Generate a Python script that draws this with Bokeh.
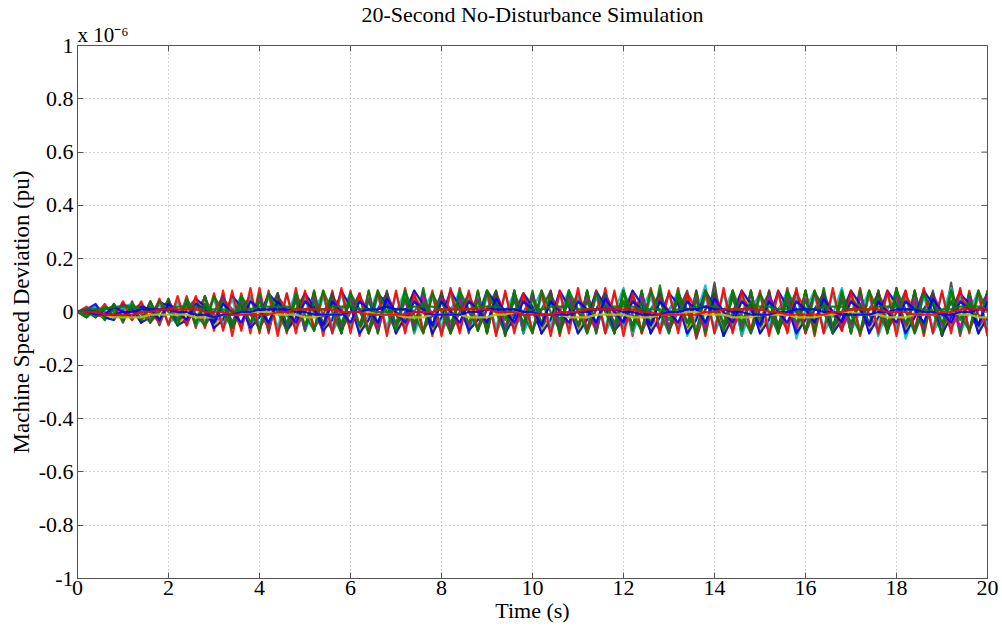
import numpy as np
from bokeh.plotting import figure
from bokeh.models import Title, FixedTicker, Range1d
from bokeh.embed import file_html
from bokeh.resources import INLINE

# time axis (s), sample every 0.2 s
time_s = np.linspace(0, 20, 101)

# machine speed deviations, in units of 1e-8 pu
gray_a = [0,
 -2,2,-3,3,-4,4,-4,4,-5,4,
 -5,5,-5,6,-5,5,-6,6,-6,6,
 -7,6,-7,7,-6,7,-7,7,-8,7,
 -8,7,-7,8,-8,7,-7,8,-8,7,
 -7,8,-8,7,-8,8,-7,8,-8,7,
 -8,7,-8,8,-7,8,-8,7,-8,8,
 -7,8,-8,7,-8,7,-8,8,-7,11,
 -9,7,-8,8,-7,8,-8,7,-8,8,
 -7,8,-8,7,-8,8,-7,8,-8,7,
 -8,8,-7,8,-9,11,-8,7,-8,8]
gray_b = [0,
 1,-2,1,2,-3,1,3,-4,0,4,
 -5,1,5,-5,0,6,-6,1,6,-6,
 0,7,-7,1,7,-6,-1,7,-7,0,
 7,-8,1,7,-7,0,8,-7,-1,7,
 -8,0,7,-7,1,8,-8,0,7,-7,
 1,8,-7,0,7,-8,1,7,-7,0,
 8,-8,1,7,-7,0,8,-10,1,7,
 -7,0,8,-8,1,7,-7,0,8,-8,
 1,7,-7,0,8,-8,1,7,-7,0,
 8,-8,1,7,-9,0,8,-7,1,7]
yellow_a = [0,
 -1,2,-2,2,-3,3,-3,2,-4,3,
 -4,4,-4,5,-5,4,-5,5,-6,5,
 -6,5,-6,6,-5,6,-6,5,-6,6,
 -5,6,-6,5,-6,6,-5,6,-7,6,
 -6,5,-6,6,-5,6,-6,5,-6,6,
 -6,6,-5,6,-6,5,-6,7,-6,5,
 -6,6,-5,6,-6,6,-5,6,-6,5,
 -6,6,-6,5,-6,6,-5,6,-6,6,
 -5,6,-6,5,-7,6,-6,5,-6,6,
 -6,5,-6,6,-5,6,-6,6,-5,6]
yellow_b = [0,
 1,0,-2,-1,2,1,-3,-1,3,2,
 -4,-2,4,2,-5,-2,5,3,-6,-2,
 6,2,-7,-3,6,3,-7,-2,7,2,
 -7,-3,7,3,-6,-2,7,2,-7,-3,
 7,2,-7,-3,6,2,-7,-2,7,3,
 -7,-2,6,3,-7,-2,7,2,-7,-3,
 7,3,-6,-2,7,3,-7,-2,6,2,
 -7,-3,7,2,-7,-2,7,3,-6,-2,
 7,2,-7,-3,7,2,-6,-3,7,2,
 -7,-2,7,3,-7,-2,6,3,-7,-2]
magenta_a = [0,
 0,2,0,-2,1,3,-1,-3,1,4,
 -1,-4,1,5,-1,-5,0,5,-1,-6,
 1,6,-1,-6,0,6,-1,-7,1,6,
 0,-6,1,7,-1,-6,0,6,-1,-7,
 1,6,0,-6,1,7,-1,-6,0,6,
 -1,-7,1,6,0,-6,1,7,-1,-6,
 0,6,-1,-7,1,6,0,-6,1,7,
 -1,-6,0,6,-1,-7,1,6,0,-6,
 1,7,-1,-6,0,6,-1,-7,1,6,
 0,-6,1,7,-1,-6,0,6,-1,-7]
magenta_b = [0,
 -1,1,-1,2,-2,2,-3,2,-3,3,
 -3,4,-4,3,-4,5,-4,4,-5,5,
 -5,4,-5,5,-6,5,-5,4,-5,6,
 -5,5,-6,5,-5,4,-5,6,-5,5,
 -6,5,-5,5,-4,5,-6,5,-5,6,
 -5,4,-5,6,-5,5,-6,5,-5,4,
 -5,6,-5,5,-6,5,-4,5,-6,5,
 -5,6,-5,4,-5,6,-5,5,-6,5,
 -4,5,-6,5,-5,6,-5,4,-5,6,
 -5,5,-6,5,-5,4,-6,5,-5,6]
cyan_a = [0,
 -1,2,-2,-3,2,3,-3,-1,4,-4,
 -2,5,-5,-1,5,-6,0,6,-6,-1,
 6,-7,-1,7,-7,1,7,-8,0,7,
 -8,-1,8,-7,0,8,-8,1,7,-8,
 0,8,-7,-1,8,-8,0,7,-8,1,
 8,-7,0,8,-8,-1,7,-8,0,9,
 -8,1,8,-7,0,8,-9,-1,10,-8,
 0,8,-9,1,7,-8,0,8,-10,1,
 8,-8,-1,9,-7,0,8,-9,1,8,
 -10,0,8,-8,-1,9,-8,0,8,-9]
cyan_b = [0,
 1,-1,2,-2,2,-3,3,-3,3,-4,
 4,-4,5,-4,5,-5,5,-6,6,-5,
 6,-6,7,-6,6,-7,6,-6,7,-6,
 6,-7,6,-6,7,-6,6,-7,6,-6,
 7,-6,6,-7,6,-6,7,-6,6,-7,
 6,-6,7,-6,6,-7,6,-6,7,-6,
 6,-7,6,-6,7,-6,6,-7,6,-6,
 7,-6,6,-7,6,-6,7,-6,6,-7,
 6,-6,7,-6,6,-7,6,-6,7,-6,
 6,-7,6,-6,7,-6,6,-7,6,-6]
green_a = [0,
 -2,1,-3,3,-3,2,-4,4,-3,5,
 -5,4,-5,6,-5,5,-6,6,-5,7,
 -6,7,-7,6,-7,8,-7,7,-8,7,
 -7,8,-8,7,-6,8,-7,9,-8,7,
 -8,7,-7,8,-8,7,-9,8,-7,8,
 -8,7,-8,8,-7,8,-8,7,-8,8,
 -7,8,-8,10,-7,8,-8,7,-8,8,
 -9,8,-7,8,-8,7,-8,8,-7,8,
 -8,9,-7,8,-8,8,-7,8,-8,9,
 -7,8,-8,7,-9,8,-8,7,-8,8]
green_b = [0,
 -1,1,-2,1,-2,2,-3,2,-3,2,
 -3,3,-4,3,-3,4,-4,3,-4,4,
 -4,3,-4,4,-5,4,-4,3,-4,4,
 -5,4,-4,3,-4,5,-4,4,-5,4,
 -4,3,-4,4,-5,4,-3,4,-4,5,
 -4,4,-3,4,-5,4,-4,3,-4,4,
 -5,4,-4,4,-3,5,-4,4,-4,3,
 -4,5,-4,4,-3,4,-5,4,-4,4,
 -3,4,-5,4,-4,3,-4,5,-4,4,
 -4,3,-5,4,-4,4,-3,4,-5,4]
green_c = [0,
 0,-2,2,0,-3,3,0,-4,4,0,
 -5,5,-1,-5,6,0,-6,6,1,-7,
 7,0,-7,7,-1,-7,8,0,-8,7,
 1,-8,8,0,-7,8,-1,-8,7,0,
 -8,8,1,-7,8,0,-8,7,-1,-8,
 8,0,-7,8,1,-8,7,0,-8,8,
 -1,-7,8,0,-8,7,1,-8,8,0,
 -7,8,-1,-8,7,0,-8,8,1,-7,
 8,0,-8,7,-1,-8,8,0,-7,8,
 1,-8,7,0,-8,8,-1,-7,8,0]
blue_a = [0,
 1,3,-2,-3,3,1,-4,-2,4,2,
 -5,-3,5,2,-6,-3,6,2,-6,-2,
 7,3,-7,-2,7,2,-7,-3,8,2,
 -8,-3,7,3,-8,-2,8,3,-8,-2,
 8,2,-7,-3,8,3,-8,-2,7,2,
 -8,-3,8,2,-8,-3,8,2,-7,-3,
 8,3,-8,-2,7,3,-8,-3,8,2,
 -9,-2,8,3,-8,-3,8,2,-8,-3,
 7,2,-8,-3,8,3,-8,-2,8,3,
 -8,-2,8,3,-8,-2,7,3,-8,-2]
blue_b = [0,
 1,0,-1,2,0,-2,2,1,-3,3,
 0,-3,3,1,-4,3,0,-4,4,1,
 -4,4,0,-4,4,1,-5,4,0,-4,
 4,1,-4,5,0,-4,4,1,-5,4,
 0,-4,4,1,-4,5,0,-4,4,1,
 -5,4,0,-4,4,1,-4,5,0,-4,
 4,1,-5,4,0,-4,4,1,-4,5,
 0,-4,4,1,-5,4,0,-4,4,1,
 -4,5,0,-4,4,1,-5,4,0,-4,
 4,1,-4,5,0,-4,4,1,-5,4]
red_a = [0,
 2,-1,3,-2,4,-3,4,-4,5,-5,
 6,-5,6,-6,7,-7,8,-7,9,-8,
 8,-9,7,-8,8,-7,8,-8,9,-8,
 7,-8,8,-9,8,-8,7,-8,8,-9,
 9,-8,8,-7,8,-9,8,-8,7,-8,
 8,-9,8,-8,9,-7,8,-8,8,-9,
 7,-8,9,-8,8,-8,7,-9,8,-8,
 9,-8,8,-7,8,-9,8,-8,9,-8,
 8,-8,9,-7,8,-9,8,-8,8,-9,
 8,-7,9,-8,8,-8,9,-8,8,-9]
red_b = [0,
 1,-1,-2,2,1,-3,3,0,-4,3,
 1,-5,4,0,-5,5,1,-6,5,0,
 -6,6,1,-6,6,0,-7,6,1,-6,
 6,0,-7,6,-1,-6,7,0,-6,6,
 1,-7,6,0,-6,7,-1,-6,6,0,
 -7,6,1,-6,6,0,-7,6,1,-6,
 6,-1,-7,6,0,-6,7,1,-6,6,
 0,-7,6,1,-6,6,0,-7,7,1,
 -6,6,0,-7,6,1,-6,7,0,-6,
 6,1,-7,6,0,-6,7,1,-6,6]
red_c = [0,
 -1,2,-2,3,-3,3,-4,4,-4,5,
 -5,6,-6,6,-7,8,-9,7,-8,9,
 -8,7,-8,9,-7,8,-9,8,-7,8,
 -9,8,-8,7,-8,9,-8,7,-9,8,
 -8,9,-7,8,-8,7,-9,8,-8,7,
 -8,8,-9,7,-8,8,-7,9,-8,8,
 -9,7,-8,8,-7,9,-8,8,-9,7,
 -8,8,-9,8,-7,8,-8,9,-7,8,
 -9,8,-8,7,-8,9,-8,8,-7,9,
 -8,8,-9,7,-8,8,-9,8,-7,8]
yellow_core = [0,
 0,-1,-1,-2,-2,-2,-2,-1,-1,-1,
 -1,-1,-2,-2,-2,-1,-1,-1,0,0,
 0,-1,-1,-1,-2,-2,-1,-1,-1,0,
 0,0,-1,-1,-1,-2,-2,-2,-1,-1,
 -1,-1,-2,-2,-2,-1,-1,0,0,0,
 -1,-1,-1,-2,-2,-2,-1,-1,-1,-1,
 -2,-2,-2,-1,-1,-1,0,0,-1,-1,
 -1,-2,-2,-2,-1,-1,-1,-1,-2,-2,
 -2,-1,-1,0,0,-1,-1,-1,-2,-2,
 -2,-1,-1,-1,0,0,-1,-1,-2,-2]
green_core = [0,
 1,1,1,2,2,2,1,1,1,1,
 2,2,2,1,1,1,0,1,1,2,
 2,2,2,1,1,1,1,2,2,2,
 1,1,0,0,1,1,2,2,2,1,
 1,1,1,2,2,2,1,1,0,1,
 1,2,2,2,1,1,1,1,2,2,
 2,1,1,1,0,1,1,2,2,2,
 1,1,1,2,2,2,1,1,0,1,
 1,2,2,2,1,1,1,2,2,2,
 1,1,1,0,1,1,2,2,2,1]
blue_core = [0,
 0,-1,-1,-1,0,0,1,1,1,1,
 0,0,-1,-1,-2,-1,-1,0,0,1,
 1,1,1,0,0,-1,-1,-1,-1,0,
 0,1,1,2,1,1,0,0,-1,-1,
 -1,-1,0,0,1,1,1,1,0,0,
 -1,-1,-1,-1,0,0,1,1,1,0,
 0,-1,-1,-1,0,0,1,1,2,1,
 1,0,0,-1,-1,-1,0,0,1,1,
 1,0,0,-1,-1,-1,-1,0,0,1,
 1,1,0,0,-1,-1,0,0,1,1]
red_core = [0,
 0,0,-1,-1,-1,-1,0,0,1,1,
 1,1,1,0,0,0,-1,-1,-1,-1,
 -1,0,0,1,1,1,1,1,0,0,
 0,-1,-1,-1,-1,-1,0,0,0,1,
 1,1,1,1,1,0,0,0,-1,-1,
 -1,-1,0,0,0,1,1,1,1,1,
 1,0,0,-1,-1,-1,-1,-1,0,0,
 1,1,1,1,1,0,0,-1,-1,-1,
 -1,-1,0,0,1,1,1,1,0,0,
 0,-1,-1,-1,0,0,1,1,1,1]

GRAY, YELLOW, MAGENTA, CYAN = "#404040", "#bfbf00", "#bf00bf", "#00bfbf"
GREEN, BLUE, RED = "#008000", "#0000ff", "#ff0000"
series = [
    (red_c, RED), (gray_a, GRAY), (yellow_a, YELLOW), (magenta_a, MAGENTA),
    (cyan_a, CYAN), (red_b, RED), (green_a, GREEN), (gray_b, GRAY),
    (yellow_b, YELLOW), (magenta_b, MAGENTA), (blue_a, BLUE), (cyan_b, CYAN),
    (red_a, RED), (green_c, GREEN), (green_b, GREEN), (blue_b, BLUE),
    (yellow_core, YELLOW), (green_core, GREEN), (blue_core, BLUE), (red_core, RED),
]

x_ticks = [0, 2, 4, 6, 8, 10, 12, 14, 16, 18, 20]
y_ticks = [-1, -0.8, -0.6, -0.4, -0.2, 0, 0.2, 0.4, 0.6, 0.8, 1]
y_tick_labels = ["-1", "-0.8", "-0.6", "-0.4", "-0.2", "0", "0.2", "0.4", "0.6", "0.8", "1"]

FONT = "Liberation Serif"
AX = "#555555"
TICK_PX = 6.0

p = figure(width=1002, height=628, x_range=Range1d(0, 20), y_range=Range1d(-1, 1),
           output_backend="svg", toolbar_location=None, title=None,
           min_border_left=77, min_border_right=15, min_border_top=45, min_border_bottom=50)
p.background_fill_color = "white"
p.border_fill_color = "white"
p.outline_line_color = AX
p.outline_line_width = 1

for ys, col in series:
    p.line(time_s, np.array(ys, dtype=float) / 100.0, line_color=col, line_width=2.2,
           line_alpha=0.9, line_join="round")

p.xaxis.ticker = FixedTicker(ticks=x_ticks)
p.yaxis.ticker = FixedTicker(ticks=y_ticks)
p.yaxis.major_label_overrides = {t: l for t, l in zip(y_ticks, y_tick_labels)}
p.xaxis.axis_label = "Time (s)"
p.yaxis.axis_label = "Machine Speed Deviation (pu)"
for ax in (p.xaxis[0], p.yaxis[0]):
    ax.axis_line_color = AX
    ax.major_tick_line_color = AX
    ax.major_tick_in = int(TICK_PX)
    ax.major_tick_out = 0
    ax.minor_tick_line_color = None
    ax.major_label_text_font = FONT
    ax.major_label_text_font_size = "22px"
    ax.major_label_text_color = "black"
    ax.axis_label_text_font = FONT
    ax.axis_label_text_font_size = "22px"
    ax.axis_label_text_font_style = "normal"
    ax.axis_label_text_color = "black"
p.yaxis.axis_label_text_font_size = "23px"
p.xaxis.major_label_standoff = 2
p.xaxis.axis_label_standoff = 0
p.yaxis.major_label_standoff = 4
p.yaxis.axis_label_standoff = 2

# inward ticks on the top and right edges of the box (MATLAB style)
frame_w, frame_h = 910.0, 533.0
dy = TICK_PX / frame_h * 2.0
dx = TICK_PX / frame_w * 20.0
p.segment(x0=x_ticks, y0=[1] * len(x_ticks), x1=x_ticks, y1=[1 - dy] * len(x_ticks),
          line_color=AX, line_width=1)
p.segment(x0=[20] * len(y_ticks), y0=y_ticks, x1=[20 - dx] * len(y_ticks), y1=y_ticks,
          line_color=AX, line_width=1)

p.xgrid.grid_line_color = "#aaaaaa"
p.xgrid.grid_line_dash = "1 3"
p.ygrid.grid_line_color = "#aaaaaa"
p.ygrid.grid_line_dash = "1 3"

# axis multiplier (closest to the frame) and main title (outermost)
mult = Title(text="x 10\u207b\u2076", align="left", text_font=FONT, text_font_size="21px",
             text_font_style="normal", text_color="black", standoff=-2)
p.add_layout(mult, "above")
main = Title(text="20-Second No-Disturbance Simulation", align="center", text_font=FONT,
             text_font_size="22px", text_font_style="normal", text_color="black", standoff=-11)
p.add_layout(main, "above")

open("out.html", "w").write(file_html(p, INLINE))
